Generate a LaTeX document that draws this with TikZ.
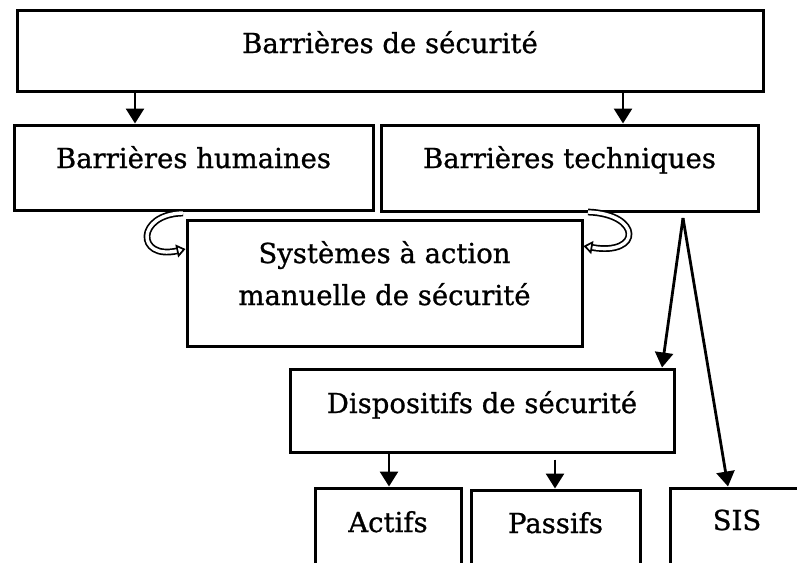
\documentclass[tikz,border=0pt]{standalone}
\usepackage{fontspec}
\setmainfont[FakeBold=0.9]{DejaVu Serif}
\usetikzlibrary{arrows.meta}
\begin{document}
\begin{tikzpicture}[x=1pt,y=-1pt,
  box/.style={draw, line width=3pt, rectangle, inner sep=0pt},
  lbl/.style={anchor=base, inner sep=0pt, font=\fontsize{27.5}{34}\selectfont},
  arr/.style={line width=2.8pt, -{Triangle[width=18pt,length=15pt]}},
  curl/.style={double=white, double distance=3.4pt, line width=1.7pt,
    -{Triangle[open,width=13pt,length=9pt]}}]
\clip (0,0) rectangle (797,562);
\fill[white] (0,0) rectangle (797,562);

% boxes
\node[box, minimum width=746pt, minimum height=81pt]  (top)  at (390,50.5) {};
\node[box, minimum width=359pt, minimum height=85.5pt] (hum) at (193.5,167.75) {};
\node[box, minimum width=377pt, minimum height=86pt]  (tech) at (569.5,168) {};
\node[box, minimum width=395pt, minimum height=126pt] (sys)  at (384.5,283) {};
\node[box, minimum width=384pt, minimum height=83pt]  (disp) at (482,410.5) {};
\node[box, minimum width=146pt, minimum height=112pt] (act)  at (388,544) {};
\node[box, minimum width=169pt, minimum height=110pt] (pas)  at (555.5,545) {};
\node[box, minimum width=150pt, minimum height=112pt] (sis)  at (745,544) {};

% labels
\node[lbl] (ttop)  at (top.center |- 0,53)  {Barrières de sécurité};
\node[lbl] (thum)  at (hum.center |- 0,168) {Barrières humaines};
\node[lbl] (ttech) at (tech.center |- 0,168) {Barrières techniques};
\node[lbl] (tsys1) at (sys.center |- 0,263) {Systèmes à action};
\node[lbl] (tsys2) at (sys.center |- 0,305) {manuelle de sécurité};
\node[lbl] (tdisp) at (disp.center |- 0,413) {Dispositifs de sécurité};
\node[lbl] (tact)  at (act.center |- 0,532) {Actifs};
\node[lbl] (tpas)  at (pas.center |- 0,533) {Passifs};
\node[lbl] (tsis)  at (737,530) {SIS};

% connectors
\draw[arr] (top.south -| 135,0) -- (hum.north -| 135,0);
\draw[arr] (top.south -| 623,0) -- (tech.north -| 623,0);
\coordinate (fork) at (683,218);
\draw[arr] (fork) -- (disp.north -| 662,0);
\draw[arr] (fork) -- (sis.north -| 728,0);
\draw[arr] (disp.south -| 389,0) -- (act.north -| 389,0);
\draw[arr] ([yshift=-6pt]disp.south -| 555,0) -- (pas.north -| 555,0);

% curved arrows on both sides of the manual systems box
\coordinate (lc) at (183,213);
\coordinate (rc) at (588,212);
\draw[curl] (lc) .. controls (136,214) and (136,260) .. (sys.west |- 0,249);
\draw[curl] (rc) .. controls (642,214) and (642,256) .. (sys.east |- 0,246);
\end{tikzpicture}
\end{document}
